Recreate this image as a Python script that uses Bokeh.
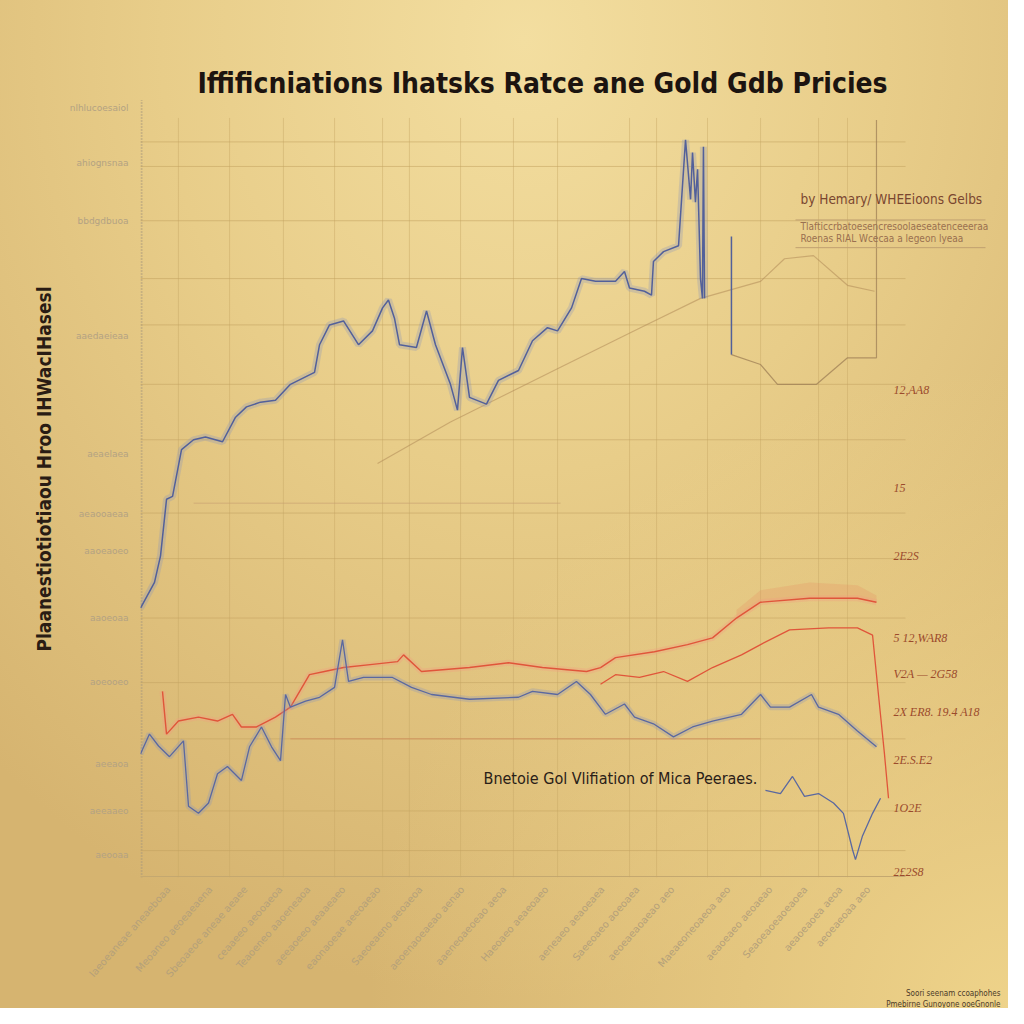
from math import pi
from bokeh.plotting import figure
from bokeh.models import FixedTicker, LinearAxis, Label, Range1d, Title
from bokeh.embed import file_html
from bokeh.resources import INLINE

# ---------------- texts ----------------
TITLE = "Iffificniations Ihatsks Ratce ane Gold Gdb Pricies"
Y_LABEL = "Plaanestiotiotiaou Hroo IHWacIHasesl"
NOTE = "Bnetoie  Gol Vlifiation of Mica Peeraes."
LEGEND_TITLE = "by Hemary/ WHEEioons Gelbs"
LEGEND_LINES = ["Tlafticcrbatoesencresoolaeseatenceeeraa", "Roenas  RIAL Wcecaa a legeon lyeaa"]
FOOTER = ["Soori seenam ccoaphohes", "Pmebirne Gunoyone ooeGnonle"]

# ---------------- gold price series (upper blue) ----------------
gold_years = [1970.0, 1971.0, 1971.43, 1971.86, 1972.29, 1972.93, 1973.79, 1974.64, 1975.86,
              1976.79, 1977.57, 1978.57, 1979.64, 1980.71, 1982.43, 1982.79, 1983.5, 1984.5,
              1985.57, 1986.57, 1987.29, 1987.71, 1988.14, 1988.5, 1989.71, 1990.43, 1991.07,
              1992.14, 1992.64, 1993.0, 1993.5, 1994.71, 1995.57, 1997.0, 1998.0, 1999.07,
              1999.79, 2000.79, 2001.5, 2002.5, 2003.93, 2004.57, 2004.93, 2006.0, 2006.5,
              2006.64, 2007.36, 2008.43, 2008.93, 2009.29, 2009.43, 2009.64, 2009.79, 2010.0,
              2010.14, 2010.21, 2010.29]
gold_price = [680, 745, 812, 955, 962, 1080, 1105, 1112, 1100,
              1162, 1188, 1200, 1205, 1245, 1275, 1345, 1395, 1405,
              1345, 1380, 1438, 1458, 1412, 1345, 1338, 1430, 1345,
              1245, 1180, 1338, 1212, 1195, 1255, 1280, 1355, 1388,
              1380, 1438, 1512, 1505, 1505, 1530, 1488, 1480, 1470,
              1555, 1580, 1595, 1862, 1712, 1830, 1705, 1788, 1512,
              1462, 1845, 1462]

spike_years = [2012.21, 2012.21]
spike_price = [1618, 1320]

trend_years = [1986.93, 1992.14, 2000.0, 2005.71, 2010.0, 2014.29, 2016.0, 2018.07, 2020.5, 2022.43]
trend_price = [1045, 1150, 1288, 1388, 1462, 1505, 1562, 1570, 1495, 1480]

box_years = [2012.21, 2014.29, 2015.5, 2018.29, 2020.5, 2022.57, 2022.57]
box_price = [1320, 1295, 1245, 1245, 1312, 1312, 1912]

# ---------------- interest rate series (lower blue) ----------------
rate_years = [1970.0, 1970.64, 1971.29, 1972.07, 1973.07, 1973.43, 1974.14, 1974.86, 1975.5,
              1976.21, 1977.21, 1977.79, 1978.64, 1979.36, 1980.0, 1980.36, 1980.71, 1981.79,
              1982.79, 1983.86, 1984.43, 1984.86, 1985.93, 1988.0, 1989.36, 1990.79, 1993.5,
              1997.0, 1998.0, 1999.79, 2001.14, 2002.14, 2003.21, 2004.57, 2005.29, 2006.64,
              2008.07, 2009.43, 2010.86, 2012.93, 2014.29, 2015.0, 2016.36, 2017.93, 2018.43,
              2019.86, 2021.21, 2022.57]
rate_vals = [312, 362, 332, 305, 345, 180, 162, 188, 262,
             280, 245, 330, 380, 330, 295, 462, 430, 445,
             455, 480, 600, 495, 505, 505, 480, 462, 450,
             455, 470, 462, 495, 462, 412, 438, 405, 388,
             355, 380, 395, 412, 462, 430, 430, 462, 430,
             412, 370, 330]

rate2_years = [2014.64, 2015.71, 2016.57, 2017.43, 2018.43, 2019.5, 2020.21, 2020.86, 2021.07,
               2021.57, 2022.29, 2022.86]
rate2_vals = [220, 212, 255, 205, 212, 188, 162, 70, 45, 105, 162, 200]

# ---------------- inflation series (red) ----------------
infl_years = [1971.57, 1971.86, 1972.71, 1974.14, 1975.5, 1976.57, 1977.21, 1978.29, 1979.64,
              1980.71, 1982.07, 1983.14, 1984.5, 1986.57, 1988.36, 1988.79, 1990.07, 1993.5,
              1996.29, 1998.71, 2001.86, 2002.86, 2003.93, 2006.71, 2009.07, 2010.86, 2012.57,
              2014.29, 2017.79, 2021.21, 2022.57]
infl_vals = [470, 362, 395, 405, 395, 412, 380, 380, 405,
             430, 512, 520, 530, 538, 545, 562, 520, 530,
             542, 530, 520, 530, 555, 570, 588, 605, 655,
             695, 705, 705, 695]

infl_haze_years = [2012.57, 2014.29, 2017.79, 2021.21, 2022.57]
infl_haze_top = [675, 725, 745, 738, 712]

infl2_years = [2002.86, 2003.93, 2005.64, 2007.36, 2009.07, 2010.86, 2012.93, 2014.29, 2016.36,
               2019.14, 2021.21, 2022.29, 2022.71, 2023.14, 2023.43]
infl2_vals = [488, 512, 505, 520, 495, 530, 562, 588, 625, 630, 630, 612, 462, 312, 200]

# ---------------- axes ticks & labels ----------------
left_ticks = [1942.5, 1805, 1657.5, 1367.5, 1070, 917.5, 825, 655, 492.5, 287.5, 167.5, 57.5]
left_labels = ["nlhlucoesaiol", "ahiognsnaa", "bbdgdbuoa", "aaedaeieaa", "aeaelaea",
               "aeaooaeaa", "aaoeaoeo", "aaoeoaa", "aoeooeo", "aeeaoa", "aeeaaeo", "aeooaa"]

right_ticks = [1230, 982.5, 812.5, 605, 512.5, 417.5, 297.5, 175, 15]
right_labels = ["12,AA8", "15", "2E2S", "5 12,WAR8", "V2A \u2014 2G58", "2X ER8. 19.4 A18",
                "2E.S.E2", "1O2E", "2\u00a32S8"]

bottom_ticks = [1972.0, 1975.0, 1977.5, 1980.0, 1982.0, 1984.5, 1987.0, 1990.0, 1993.0,
                1996.0, 1999.0, 2003.0, 2005.5, 2008.0, 2012.0, 2015.0, 2017.5, 2020.0, 2022.0]
bottom_labels = ["Iaeoeaneae aneaeboaa", "Meoaneo aeoeaeaena", "Sbeoaeoe aneae aeaee",
                 "ceaaeeo aeooaeoa", "Teaoeneo aaoeneaoa", "aeeaoeeo aeaaeaeo",
                 "eaonaoeae aeeoaeao", "Saeoeaeno aeoaeoa", "aeoenaoeaeao aenao",
                 "aaeneoaeoeao aeoa", "Haeoaeo aeaeoaeo", "aeneaeo aeaoeaea",
                 "Saeeoaeo aoeoaea", "aeoeaeaoaeao aeo", "Maeaeoneoaeoa aeo",
                 "aeaoeaeo aeoaeao", "Seaoeaoeaoeaoea", "aeaoeaoea aeoa", "aeoeaeoaa aeo"]

grid_x = [1972.71, 1976.36, 1980.21, 1983.86, 1987.29, 1989.21, 1992.86, 1996.64, 1999.79,
          2004.93, 2006.86, 2010.5, 2014.29, 2018.43, 2020.5]
grid_y = [1857, 1795, 1658, 1512, 1395, 1245, 1105, 920, 805, 655, 492, 350, 168, 68]

rule_a = ([1980.71, 2014.29], [350, 350])
rule_b = ([1973.8, 2000.0], [945, 945])

# ---------------- layout helpers (pixel -> data) ----------------
FL, FR, FT, FB = 140, 1000, 60, 885
X0 = 1970.0
PX_PER_YEAR = 14.0
PRICE_PER_PX = 2.5
X1 = X0 + (FR - FL) / PX_PER_YEAR
Y0, Y1 = 0.0, (FB - FT) * PRICE_PER_PX


def yr(px):
    return X0 + (px - FL) / PX_PER_YEAR


def pr(py):
    return (FB - py) * PRICE_PER_PX


BG = ("radial-gradient(circle at 100% 100%, rgba(242,216,142,0.85) 0%, rgba(242,216,142,0) 45%), "
      "radial-gradient(ellipse 80% 95% at 52% 4%, #f3dea0 0%, #e8cd89 45%, #d6b470 100%)")

p = figure(width=1008, height=1008, x_range=Range1d(X0, X1), y_range=Range1d(Y0, Y1),
           output_backend="svg", toolbar_location=None,
           min_border_left=FL, min_border_right=1008 - FR, min_border_top=FT, min_border_bottom=1008 - FB,
           background_fill_color=None, border_fill_color=None, outline_line_color=None,
           x_axis_location=None, y_axis_location=None,
           styles={"background": BG})

p.xgrid.visible = False
p.ygrid.visible = False

SANS_N = "'DejaVu Sans Condensed', 'Liberation Sans Narrow', 'Liberation Sans', sans-serif"

left_axis = LinearAxis(ticker=FixedTicker(ticks=left_ticks),
                       major_label_overrides={v: s for v, s in zip(left_ticks, left_labels)})
left_axis.axis_line_color = None
left_axis.major_tick_line_color = None
left_axis.minor_tick_line_color = None
left_axis.major_label_text_color = "#b3a283"
left_axis.major_label_text_font = "DejaVu Sans"
left_axis.major_label_text_font_size = "9px"
left_axis.major_label_standoff = 6
left_axis.axis_label = Y_LABEL
left_axis.axis_label_text_font = SANS_N
left_axis.axis_label_text_font_style = "bold"
left_axis.axis_label_text_font_size = "19px"
left_axis.axis_label_text_color = "#2a1c14"
left_axis.axis_label_standoff = 12
p.add_layout(left_axis, "left")

bottom_axis = LinearAxis(ticker=FixedTicker(ticks=bottom_ticks),
                         major_label_overrides={v: s for v, s in zip(bottom_ticks, bottom_labels)})
bottom_axis.axis_line_color = None
bottom_axis.major_tick_line_color = None
bottom_axis.minor_tick_line_color = None
bottom_axis.major_label_orientation = 0.85
bottom_axis.major_label_text_color = "#b4a07a"
bottom_axis.major_label_text_font = "DejaVu Sans"
bottom_axis.major_label_text_font_size = "10px"
bottom_axis.major_label_standoff = 4
p.add_layout(bottom_axis, "below")

for k, s in enumerate(FOOTER):
    p.add_layout(Title(text=s, align="right", text_font=SANS_N, text_font_size="8px",
                       text_font_style="normal", text_color="#4a3a28", standoff=0), "below")

# axis lines drawn as rules
p.line([yr(FL + 1), yr(FL + 1)], [pr(FB), pr(100)], line_color="#a8987c", line_dash="1 2", line_width=2)
p.line([X0, yr(905)], [pr(FB - 1), pr(FB - 1)], line_color="#c4a870", line_width=1.2)

for gx in grid_x:
    p.line([gx, gx], [pr(FB), pr(118)], line_color="#c8a966", line_alpha=0.45, line_width=1)
for gy in grid_y:
    p.line([X0, yr(905)], [gy, gy], line_color="#c2a260", line_alpha=0.55, line_width=1)

# faint rules and trend
p.line(*rule_a, line_color="#d08a5a", line_alpha=0.5, line_width=1.5)
p.line(*rule_b, line_color="#c8a070", line_alpha=0.45, line_width=1.5)
p.line(trend_years, trend_price, line_color="#b08a58", line_alpha=0.55, line_width=1.2)
p.line(box_years, box_price, line_color="#9a7a52", line_alpha=0.7, line_width=1.2)

# red inflation haze and lines
p.varea(x=infl_haze_years, y1=infl_vals[-5:], y2=infl_haze_top, fill_color="#e88a60", fill_alpha=0.25)
p.line(infl_years, infl_vals, line_color="#f0a080", line_alpha=0.35, line_width=6)
p.line(infl_years, infl_vals, line_color="#e0553a", line_width=1.4)
p.line(infl2_years, infl2_vals, line_color="#e0553a", line_width=1.3)

# blue series with haze
p.line(gold_years, gold_price, line_color="#8a94b8", line_alpha=0.3, line_width=7)
p.line(gold_years, gold_price, line_color="#52609a", line_width=1.5)
p.line(spike_years, spike_price, line_color="#52609a", line_width=1.5)
p.line(rate_years, rate_vals, line_color="#8a94b8", line_alpha=0.3, line_width=6)
p.line(rate_years, rate_vals, line_color="#5a68a0", line_width=1.3)
p.line(rate2_years, rate2_vals, line_color="#5a68a0", line_width=1.3)

# right-hand value labels
for v, s in zip(right_ticks, right_labels):
    p.add_layout(Label(x=yr(893), y=v, text=s, text_align="left", text_baseline="middle",
                       text_font="'Liberation Serif', serif", text_font_style="italic",
                       text_font_size="12px", text_color="#9b4a2c"))

# texts inside the frame
p.add_layout(Label(x=yr(542), y=pr(83), text=TITLE, text_align="center", text_baseline="middle",
                   text_font=SANS_N, text_font_style="bold", text_font_size="28px",
                   text_color="#1c1410"))
p.add_layout(Label(x=yr(483), y=pr(785), text=NOTE, text_align="left", text_baseline="middle",
                   text_font=SANS_N, text_font_size="16px", text_color="#2a2018"))
p.add_layout(Label(x=yr(800), y=pr(200), text=LEGEND_TITLE, text_align="left", text_baseline="middle",
                   text_font=SANS_N, text_font_size="13.5px", text_color="#7a4630"))
for k, s in enumerate(LEGEND_LINES):
    p.add_layout(Label(x=yr(800), y=pr(228 + 12 * k), text=s, text_align="left", text_baseline="middle",
                       text_font=SANS_N, text_font_size="10px", text_color="#9a7050"))
for py in (221, 249):
    p.line([yr(795), yr(985)], [pr(py), pr(py)], line_color="#c0a070", line_width=1)

open("out.html", "w").write(file_html(p, INLINE))
